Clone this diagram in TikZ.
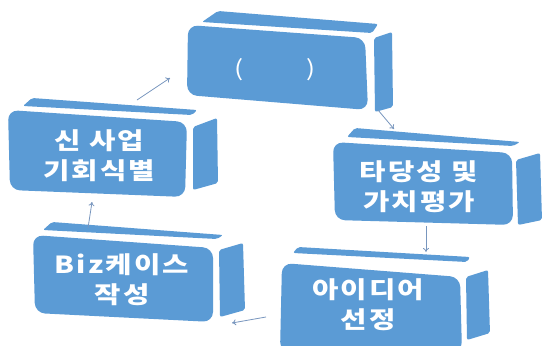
\documentclass[tikz,border=0pt]{standalone}
\usepackage{fontspec}
\usetikzlibrary{arrows.meta}
\newfontfamily\kr[FakeStretch=1.22,LetterSpace=9]{Noto Sans CJK KR}
\definecolor{boxblue}{RGB}{91,155,213}
\definecolor{arrowc}{RGB}{120,150,190}
\tikzset{
  face/.style={fill=boxblue, draw=none},
  frontface/.style={face, rounded corners=10pt},
  thinface/.style={face, rounded corners=2pt},
  lbl/.style={text=white, font=\kr\bfseries\fontsize{23.5}{30}\selectfont, align=center, inner sep=0pt},
  conn/.style={draw=arrowc, line width=0.8pt, -{To[length=4pt,width=6pt]}}
}
\begin{document}
\begin{tikzpicture}[x=1pt,y=-1pt]
\useasboundingbox (0,0) rectangle (542,346);
\fill[white] (0,0) rectangle (542,346);
% box 1 (top)
\fill[frontface] (188,25) -- (365,38) -- (368,110) -- (187,95) -- cycle;
\fill[thinface] (218,11) -- (378,24) -- (372,33) -- (202,22) -- cycle;
\fill[thinface] (374,38) -- (392,32) -- (393,107) -- (375,112) -- cycle;
\node[lbl, font=\kr\fontsize{22}{29}\selectfont] (b1) at (275,70) {\makebox[82pt]{(\hfill)}};
% box 2 (left)
\fill[frontface] (8,110) -- (187,122) -- (185,197) -- (10,190) -- cycle;
\fill[thinface] (32,98) -- (197,110) -- (192,115) -- (23,106) -- cycle;
\fill[thinface] (193,127) -- (217,118) -- (218,183) -- (193,190) -- cycle;
\node[lbl] (b2) at (99,156) {신 사업\\기회식별};
% box 3 (right)
\fill[frontface] (333,142) -- (512,153) -- (513,225) -- (335,220) -- cycle;
\fill[thinface] (355,128) -- (520,142) -- (513,146) -- (347,137) -- cycle;
\fill[thinface] (516,160) -- (540,153) -- (542,220) -- (518,225) -- cycle;
\node[lbl] (b3) at (419,187) {타당성 및\\가치평가};
% box 4 (bottom left)
\fill[frontface] (33,235) -- (213,248) -- (213,322) -- (35,313) -- cycle;
\fill[thinface] (52,222) -- (223,235) -- (217,239) -- (43,230) -- cycle;
\fill[thinface] (219,250) -- (243,243) -- (245,310) -- (220,317) -- cycle;
\node[lbl] (b4) at (122,280) {Biz케이스\\작성};
% box 5 (bottom right)
\fill[frontface] (282,263) -- (460,277) -- (462,352) -- (280,352) -- cycle;
\fill[thinface] (298,247) -- (470,257) -- (467,262) -- (293,253) -- cycle;
\fill[thinface] (466,277) -- (488,270) -- (490,333) -- (467,340) -- cycle;
\node[lbl] (b5) at (368,305) {아이디어\\선정};
% connectors
\coordinate (c21s) at (137,100);
\coordinate (c21e) at (170,78);
\coordinate (c13s) at (378,110);
\coordinate (c13e) at (394,129);
\coordinate (c35s) at (426,226);
\coordinate (c35e) at (426,252);
\coordinate (c54s) at (266,317);
\coordinate (c54e) at (232,323);
\coordinate (c42s) at (88,228);
\coordinate (c42e) at (92,202);
\draw[conn] (c21s) -- (c21e);
\draw[conn] (c13s) -- (c13e);
\draw[conn] (c35s) -- (c35e);
\draw[conn] (c54s) -- (c54e);
\draw[conn] (c42s) -- (c42e);
\end{tikzpicture}
\end{document}
